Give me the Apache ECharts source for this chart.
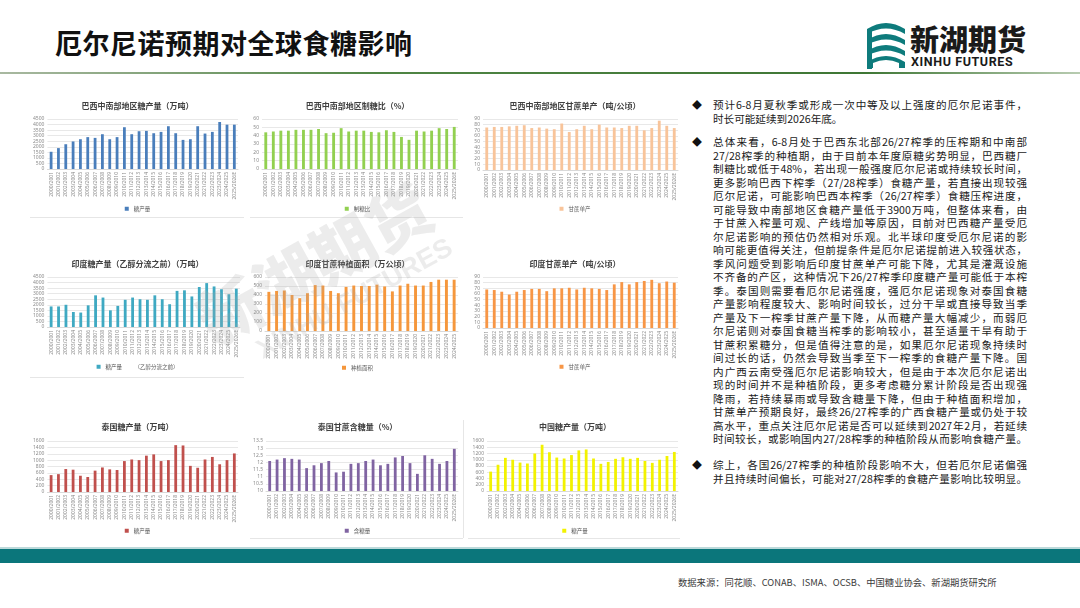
<!DOCTYPE html>
<html>
<head>
<meta charset="utf-8">
<script src="https://cdn.jsdelivr.net/npm/echarts@6/dist/echarts.min.js"></script>
<style>
  body { margin: 0; width: 1080px; height: 608px; position: relative; overflow: hidden; background: #fff;
         font-family: "Noto Sans CJK SC", "Noto Sans", sans-serif; }
  .title { position: absolute; left: 55px; top: 23px; font-size: 27px; font-weight: 700; color: #111; letter-spacing: 0.5px; }
  .rule { position: absolute; left: 0; top: 72px; width: 1080px; height: 2px;
          background: linear-gradient(to right, #a9b9a1 0%, #4f8544 35%, #3e7634 80%, #b8ccb1 100%); }
  .logo-name { position: absolute; left: 910px; top: 17px; font-size: 29px; font-weight: 900; color: #1a1a1a; letter-spacing: 0px; }
  .logo-en { position: absolute; left: 911px; top: 54px; font-size: 12.5px; font-weight: 700; color: #1a1a1a;
             font-family: "Liberation Sans Narrow", "Roboto", sans-serif; letter-spacing: 0.6px; }
  .logo-icon { position: absolute; left: 865px; top: 19px; }
  .chart { position: absolute; }
  .txt { position: absolute; left: 713px; width: 314px; font-size: 10.6px; line-height: 13.5px; color: #1a1a1a; }
  .txt div { white-space: nowrap; }
  .txt .j { text-align: justify; text-align-last: justify; white-space: normal; }
  .bullet { position: absolute; left: 692px; font-size: 10px; color: #111; line-height: 13.5px; }
  .band-line { position: absolute; left: 0; top: 547px; width: 1080px; height: 2px; background: #bcd9da; }
  .band { position: absolute; left: 0; top: 549px; width: 1080px; height: 14px; background: #0b767b; }
  .source { position: absolute; left: 678px; top: 575px; font-size: 9.3px; color: #3a3a3a; white-space: nowrap; }
  .wm { position: absolute; pointer-events: none; color: rgba(170,170,170,0.22); font-weight: 900; white-space: nowrap; }
  .cellline { position: absolute; height: 1px; background: #e6e6e6; }
</style>
</head>
<body>

<div class="title">厄尔尼诺预期对全球食糖影响</div>
<svg class="logo-icon" width="42" height="50" viewBox="0 0 42 50">
  <path d="M2 10 Q21 -2 40 10 L40 15 Q21 4 2 15 Z" fill="#0e7b7c"/>
  <path d="M2 21 Q21 9 40 21 L40 26 Q21 15 2 26 Z" fill="#0e7b7c"/>
  <path d="M2 32 Q21 20 40 32 L40 37 Q21 26 2 37 Z" fill="#0e7b7c"/>
  <path d="M2 43 Q21 31 40 43 L40 49 L34 49 L34 44 Q21 38 8 44 L8 49 L2 49 Z" fill="#0e7b7c"/>
  <rect x="2" y="10" width="5" height="40" fill="#0e7b7c"/>
</svg>
<div class="logo-name">新湖期货</div>
<div class="logo-en">XINHU FUTURES</div>
<div class="rule"></div>

<div id="c1" class="chart"></div>
<div id="c2" class="chart"></div>
<div id="c3" class="chart"></div>
<div id="c4" class="chart"></div>
<div id="c5" class="chart"></div>
<div id="c6" class="chart"></div>
<div id="c7" class="chart"></div>
<div id="c8" class="chart"></div>
<div id="c9" class="chart"></div>

<div class="cellline" style="left:30px;top:217px;width:214px"></div>
<div class="cellline" style="left:250px;top:217px;width:213px"></div>
<div class="cellline" style="left:30px;top:377px;width:214px"></div>
<div class="cellline" style="left:250px;top:538px;width:213px"></div>
<div class="cellline" style="left:468px;top:538px;width:212px"></div>
<div class="cellline" style="left:463px;top:420px;width:1px;height:118px"></div>

<div class="wm" style="left:185px;top:215px;font-size:64px;transform:rotate(-29deg);">新湖期货</div>
<div class="wm" style="left:245px;top:283px;font-size:27px;transform:rotate(-29deg);font-family:'Liberation Sans',sans-serif;">XINHU FUTURES</div>

<div class="bullet" style="top:98px">◆</div>
<div class="txt" style="top:98px">
  <div class="j">预计6-8月夏秋季或形成一次中等及以上强度的厄尔尼诺事件，</div>
  <div>时长可能延续到2026年底。</div>
</div>

<div class="bullet" style="top:135px">◆</div>
<div class="txt" style="top:135px">
  <div class="j">总体来看，6-8月处于巴西东北部26/27榨季的压榨期和中南部</div>
  <div class="j">27/28榨季的种植期，由于目前本年度原糖劣势明显，巴西糖厂</div>
  <div class="j">制糖比或低于48%，若出现一般强度厄尔尼诺或持续较长时间，</div>
  <div class="j">更多影响巴西下榨季（27/28榨季）食糖产量，若直接出现较强</div>
  <div class="j">厄尔尼诺，可能影响巴西本榨季（26/27榨季）食糖压榨进度，</div>
  <div class="j">可能导致中南部地区食糖产量低于3900万吨，但整体来看，由</div>
  <div class="j">于甘蔗入榨量可观、产线增加等原因，目前对巴西糖产量受厄</div>
  <div class="j">尔尼诺影响的预估仍然相对乐观。北半球印度受厄尔尼诺的影</div>
  <div class="j">响可能更值得关注，但前提条件是厄尔尼诺提前进入较强状态，</div>
  <div class="j">季风问题受到影响后印度甘蔗单产可能下降，尤其是灌溉设施</div>
  <div class="j">不齐备的产区，这种情况下26/27榨季印度糖产量可能低于本榨</div>
  <div class="j">季。泰国则需要看厄尔尼诺强度，强厄尔尼诺现象对泰国食糖</div>
  <div class="j">产量影响程度较大、影响时间较长，过分干旱或直接导致当季</div>
  <div class="j">产量及下一榨季甘蔗产量下降，从而糖产量大幅减少，而弱厄</div>
  <div class="j">尔尼诺则对泰国食糖当榨季的影响较小，甚至适量干旱有助于</div>
  <div class="j">甘蔗积累糖分，但是值得注意的是，如果厄尔尼诺现象持续时</div>
  <div class="j">间过长的话，仍然会导致当季至下一榨季的食糖产量下降。国</div>
  <div class="j">内广西云南受强厄尔尼诺影响较大，但是由于本次厄尔尼诺出</div>
  <div class="j">现的时间并不是种植阶段，更多考虑糖分累计阶段是否出现强</div>
  <div class="j">降雨，若持续暴雨或导致含糖量下降，但由于种植面积增加，</div>
  <div class="j">甘蔗单产预期良好，最终26/27榨季的广西食糖产量或仍处于较</div>
  <div class="j">高水平，重点关注厄尔尼诺是否可以延续到2027年2月，若延续</div>
  <div class="j">时间较长，或影响国内27/28榨季的种植阶段从而影响食糖产量。</div>
</div>

<div class="bullet" style="top:458px">◆</div>
<div class="txt" style="top:458px">
  <div class="j">综上，各国26/27榨季的种植阶段影响不大，但若厄尔尼诺偏强</div>
  <div class="j">并且持续时间偏长，可能对27/28榨季的食糖产量影响比较明显。</div>
</div>

<div class="band-line"></div>
<div class="band"></div>
<div class="source">数据来源：同花顺、CONAB、ISMA、OCSB、中国糖业协会、新湖期货研究所</div>

<script>
// 榨季（横轴）
const seasons = ['2000/2001','2001/2002','2002/2003','2003/2004','2004/2005','2005/2006','2006/2007',
  '2007/2008','2008/2009','2009/2010','2010/2011','2011/2012','2012/2013','2013/2014','2014/2015',
  '2015/2016','2016/2017','2017/2018','2018/2019','2019/2020','2020/2021','2021/2022','2022/2023',
  '2023/2024','2024/2025','2025/2026E'];
const seasonsIndiaArea = ['2000/2001','2001/2002','2002/2003','2003/2004','2004/2005','2005/2006','2006/2007',
  '2007/2008','2008/2009','2009/2010','2010/2011','2011/2012','2012/2013','2013/2014','2014/2015',
  '2015/2016','2016/2017','2017/2018','2018/2019','2019/2020','2020/2021','2021/2022','2022/2023',
  '2023/2024','2024/2025'];

// 巴西中南部
const brazilSugar = [1550,1880,2230,2480,2680,2870,2800,3130,2680,2870,3760,3130,3400,3430,3220,3340,3850,3220,2620,2680,3850,3190,3340,4230,3990,3990];
const brazilMix   = [44,45,46,46,47,47,47,48,43,43.5,49,45,46,46,44.5,44,46.5,44.5,38.5,35,46,45,46,49,48,50.5];
const brazilYield = [75,76,76,77,78,79,74,75,73,72,82,67,72,78,72,80,75,75,74,78,78,70,74,87,78,74];

// 印度
const indiaSugar = [1850,1850,2000,1350,1300,1950,2850,2650,1500,1900,2450,2650,2500,2450,2850,2500,2050,3250,3300,2750,3600,3950,3650,3400,2950,3450];
const indiaArea  = [435,445,450,400,365,420,510,505,445,420,490,505,500,500,515,495,440,505,525,505,505,545,570,570,570];
const indiaYield = [68,67,64,59,64,67,69,69,65,70,70,71,68,71,70,69,67,77,81,77,81,83,85,79,82,80];

// 泰国 / 中国
const thaiSugar   = [530,560,720,700,510,470,670,770,710,690,970,1020,1000,1140,1180,970,1000,1470,1460,820,760,1020,1100,870,1000,1210];
const thaiSucrose = [12.1,12.2,12.3,12.25,12.2,11.6,11.8,11.95,12.1,11.3,11.35,11.9,11.95,12.1,12.2,11.8,11.9,12.35,12.45,11.95,11.2,12.5,12.25,11.9,12.1,12.95];
const chinaSugar  = [620,840,1060,1000,910,880,1200,1480,1240,1070,1040,1150,1300,1330,1040,870,930,1030,1080,1030,1060,960,900,1000,1120,1250];

// 版面格子：[left, top, width, height]
const cells = {
  c1: [30, 95, 215, 125],  c2: [250, 95, 215, 125],  c3: [465, 95, 220, 125],
  c4: [30, 250, 215, 130], c5: [250, 250, 215, 130], c6: [465, 250, 220, 130],
  c7: [30, 418, 215, 125], c8: [250, 418, 215, 125], c9: [465, 418, 220, 125]
};

const charts = [
  { id: 'c1', title: '巴西中南部地区糖产量（万吨）', name: '糖产量', cats: seasons, data: brazilSugar, color: '#4a7ebb',
    min: 0, max: 4500, step: 500, plot: [45, 238, 119, 169], titleY: 107, legendY: 209 },
  { id: 'c2', title: '巴西中南部地区制糖比（%）', name: '制糖比', cats: seasons, data: brazilMix, color: '#92d050',
    min: 0, max: 60, step: 10, plot: [262, 458, 119, 169], titleY: 107, legendY: 209 },
  { id: 'c3', title: '巴西中南部地区甘蔗单产（吨/公顷）', name: '甘蔗单产', cats: seasons, data: brazilYield, color: '#f8c49a',
    min: 0, max: 90, step: 10, plot: [483, 678, 119, 170], titleY: 107, legendY: 209 },
  { id: 'c4', title: '印度糖产量（乙醇分流之前）（万吨）', name: '糖产量          （乙醇分流之前）', cats: seasons, data: indiaSugar, color: '#3fa9c2',
    min: 0, max: 4500, step: 500, plot: [45, 240, 277, 327], titleY: 265, legendY: 367 },
  { id: 'c5', title: '印度甘蔗种植面积（万公顷）', name: '种植面积', cats: seasonsIndiaArea, data: indiaArea, color: '#f5973c',
    min: 0, max: 600, step: 100, plot: [265, 458, 277, 331], titleY: 265, legendY: 368 },
  { id: 'c6', title: '印度甘蔗单产（吨/公顷）', name: '甘蔗单产', cats: seasons, data: indiaYield, color: '#f79646',
    min: 0, max: 90, step: 10, plot: [483, 678, 277, 328], titleY: 265, legendY: 367 },
  { id: 'c7', title: '泰国糖产量（万吨）', name: '糖产量', cats: seasons, data: thaiSugar, color: '#c0504d',
    min: 0, max: 1600, step: 200, plot: [45, 238, 441, 492], titleY: 428, legendY: 531 },
  { id: 'c8', title: '泰国甘蔗含糖量（%）', name: '含糖量', cats: seasons, data: thaiSucrose, color: '#8064a2',
    min: 10, max: 13.5, step: 0.5, plot: [266, 458, 441, 491], titleY: 428, legendY: 531 },
  { id: 'c9', title: '中国糖产量（万吨）', name: '糖产量', cats: seasons, data: chinaSugar, color: '#f2f200',
    min: 0, max: 1600, step: 200, plot: [487, 678, 441, 491], titleY: 428, legendY: 531 }
];

const labelColor = '#8a8a8a';

charts.forEach(c => {
  const [L, T, W, H] = cells[c.id];
  const el = document.getElementById(c.id);
  el.style.left = L + 'px';
  el.style.top = T + 'px';
  el.style.width = W + 'px';
  el.style.height = H + 'px';

  const chart = echarts.init(el, null, { renderer: 'canvas' });
  chart.setOption({
    animation: false,
    title: {
      text: c.title, left: 'center', top: c.titleY - T - 5, padding: 0,
      textStyle: { fontSize: 8, fontWeight: 'bold', color: '#404040', fontFamily: 'Noto Sans CJK SC' }
    },
    legend: {
      data: [c.name], left: 'center', top: c.legendY - T - 3, padding: 0,
      itemWidth: 4, itemHeight: 4, icon: 'rect',
      textStyle: { fontSize: 5.5, color: '#595959', fontFamily: 'Noto Sans CJK SC' }
    },
    grid: {
      left: c.plot[0] - L, right: L + W - c.plot[1],
      top: c.plot[2] - T, bottom: T + H - c.plot[3], containLabel: false
    },
    xAxis: {
      type: 'category', data: c.cats,
      axisLine: { lineStyle: { color: '#d9d9d9' } },
      axisTick: { show: false },
      axisLabel: { interval: 0, rotate: 90, fontSize: 5, margin: 3, color: labelColor, fontFamily: 'Noto Sans' }
    },
    yAxis: {
      type: 'value', min: c.min, max: c.max, interval: c.step,
      axisLine: { show: false }, axisTick: { show: false },
      splitLine: { lineStyle: { color: '#e8e8e8', width: 1 } },
      axisLabel: { fontSize: 5, margin: 3, color: labelColor, fontFamily: 'Noto Sans', formatter: v => String(v) }
    },
    series: [{
      name: c.name, type: 'bar', data: c.data,
      barCategoryGap: '62%',
      itemStyle: { color: c.color }
    }]
  });
});
</script>
</body>
</html>
